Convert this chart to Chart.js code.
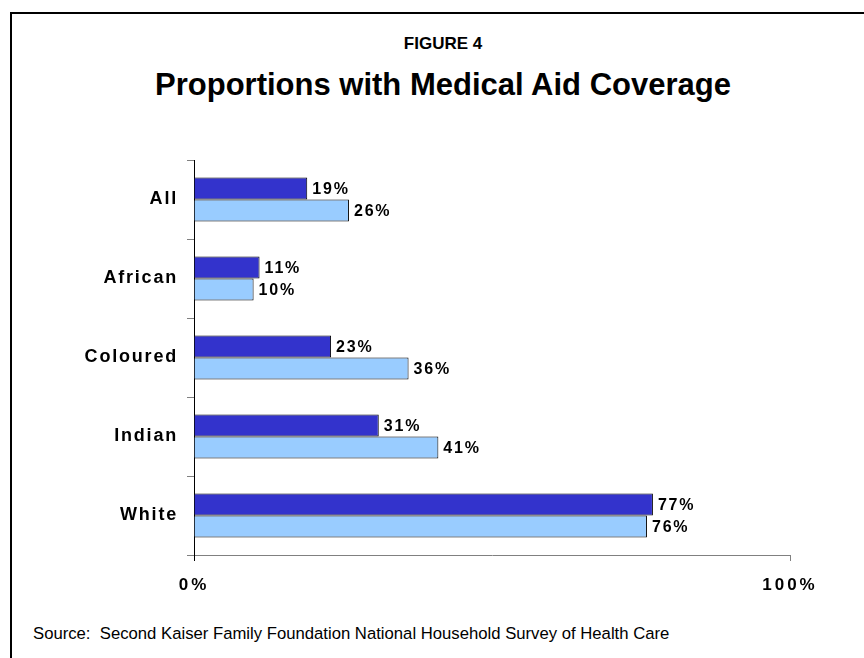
<!DOCTYPE html>
<html>
<head>
<meta charset="utf-8">
<script src="https://cdn.jsdelivr.net/npm/chart.js@4/dist/chart.umd.min.js"></script>
<style>
  html, body { margin: 0; padding: 0; background: #fff; }
  body { width: 864px; height: 658px; position: relative; overflow: hidden; font-family: "Liberation Sans", Arial, sans-serif; }
  #frame { position: absolute; left: 10px; top: 12px; width: 900px; height: 700px; border-left: 2px solid #000; border-top: 2px solid #000; }
  .head { position: absolute; left: 0; width: 886px; text-align: center; font-weight: bold; color: #000; line-height: 1; white-space: nowrap; }
  #fig { top: 35px; font-size: 17px; }
  #title { top: 69px; font-size: 31px; }
  #source { position: absolute; left: 33px; top: 626px; font-size: 16.7px; line-height: 1; color: #000; white-space: nowrap; }
  canvas { position: absolute; left: 0; top: 0; }
</style>
</head>
<body>
<div id="frame"></div>
<div class="head" id="fig">FIGURE 4</div>
<div class="head" id="title">Proportions with Medical Aid Coverage</div>
<div id="source">Source:&nbsp; Second Kaiser Family Foundation National Household Survey of Health Care</div>
<canvas id="barChart" width="864" height="658"></canvas>
<script>
const groups = ['All', 'African', 'Coloured', 'Indian', 'White'];
const firstSeries = [19, 11, 23, 31, 77];
const secondSeries = [26, 10, 36, 41, 76];
const axisTicks = [0, 100];

const fontFamily = '"Liberation Sans", Arial, sans-serif';

// letter spacing: labels on the chart are spaced out a bit
const spacingPlugin = {
  id: 'spacing',
  beforeDraw(chart) {
    chart.ctx.letterSpacing = '1.8px';
  },
  afterDatasetsDraw(chart) {
    const ctx = chart.ctx;
    ctx.save();
    ctx.font = 'bold 16px ' + fontFamily;
    ctx.fillStyle = '#000';
    ctx.textAlign = 'left';
    ctx.textBaseline = 'middle';
    chart.data.datasets.forEach((ds, i) => {
      chart.getDatasetMeta(i).data.forEach((bar, j) => {
        ctx.fillText(ds.data[j] + '%', bar.x + 5, bar.y + 1);
      });
    });
    ctx.restore();
    // x tick labels are drawn after this (ticks.z = 1)
    ctx.letterSpacing = '3px';
  },
  afterDraw(chart) {
    chart.ctx.letterSpacing = '0px';
  }
};

const ctx = document.getElementById('barChart').getContext('2d');

new Chart(ctx, {
  type: 'bar',
  data: {
    labels: groups,
    datasets: [
      {
        label: 'Series 1',
        data: firstSeries,
        backgroundColor: '#3333CC',
        borderColor: '#000',
        borderWidth: 1,
        barPercentage: 1,
        categoryPercentage: 0.558
      },
      {
        label: 'Series 2',
        data: secondSeries,
        backgroundColor: '#99CCFF',
        borderColor: '#000',
        borderWidth: 1,
        barPercentage: 1,
        categoryPercentage: 0.558
      }
    ]
  },
  options: {
    indexAxis: 'y',
    responsive: false,
    animation: false,
    layout: { padding: { top: 160, right: 74, bottom: 0, left: 0 } },
    plugins: {
      legend: { display: false },
      tooltip: { enabled: false }
    },
    scales: {
      x: {
        min: 0,
        max: 100,
        afterBuildTicks: (scale) => { scale.ticks = axisTicks.map(v => ({ value: v })); },
        afterFit: (scale) => { scale.height = 103; },
        grid: {
          drawOnChartArea: false,
          drawTicks: true,
          tickLength: 6,
          color: (c) => (c.tick && c.tick.value === 0 ? '#000' : '#808080')
        },
        border: { display: true, color: '#808080', width: 1 },
        ticks: {
          z: 1,
          padding: 14,
          color: '#000',
          font: { family: fontFamily, size: 17, weight: 'bold' },
          callback: (v) => v + '%'
        }
      },
      y: {
        afterFit: (scale) => { scale.width = 194; },
        grid: {
          offset: true,
          drawOnChartArea: false,
          drawTicks: true,
          tickLength: 7,
          color: '#808080'
        },
        border: { display: true, color: '#000', width: 1 },
        ticks: {
          padding: 9,
          color: '#000',
          font: { family: fontFamily, size: 18, weight: 'bold' }
        }
      }
    }
  },
  plugins: [spacingPlugin]
});
</script>
</body>
</html>
